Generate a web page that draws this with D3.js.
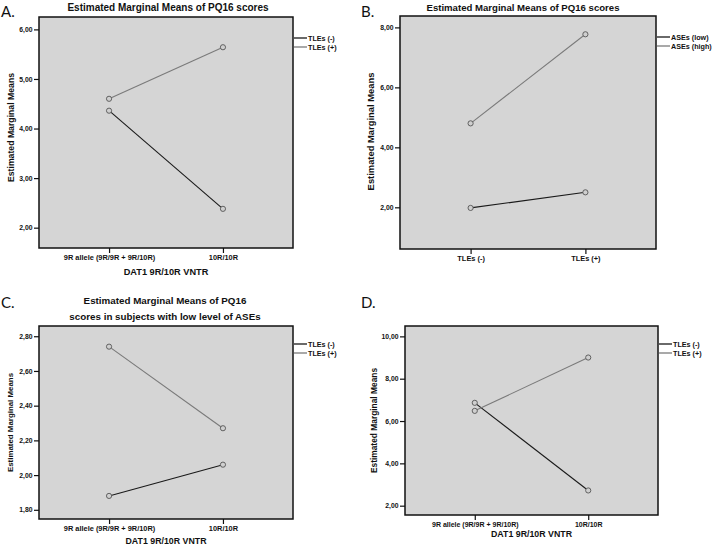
<!DOCTYPE html>
<html><head><meta charset="utf-8">
<script src="https://cdn.jsdelivr.net/npm/d3@7"></script>
<style>body{margin:0;background:#fff}svg{display:block}</style>
</head><body>
<svg id="c" width="713" height="545"></svg>
<script>
// ---- data ----
const catsDAT = ["9R allele (9R/9R + 9R/10R)", "10R/10R"];
const catsTLE = ["TLEs (-)", "TLEs (+)"];
const seriesTLE = ["TLEs (-)", "TLEs (+)"];
const seriesASE = ["ASEs (low)", "ASEs (high)"];
const aNeg = [4.36, 2.38];
const aPos = [4.60, 5.64];
const bLow = [1.98, 2.50];
const bHigh = [4.80, 7.77];
const cNeg = [1.88, 2.06];
const cPos = [2.74, 2.27];
const dNeg = [6.86, 2.72];
const dPos = [6.48, 9.00];
const ticksA = [2, 3, 4, 5, 6];
const ticksB = [2, 4, 6, 8];
const ticksC = [1.8, 2.0, 2.2, 2.4, 2.6, 2.8];
const ticksD = [2, 4, 6, 8, 10];

const svg = d3.select("#c");
const FONT = "'Liberation Sans', Arial, sans-serif";
const COLS = ["#1a1a1a", "#7a7a7a"];
const fmt = v => v.toFixed(2).replace(".", ",");

function panel(o) {
  const g = svg.append("g");
  const x = d3.scalePoint().domain(o.cats).range([o.x0, o.x1]).padding(0.615);
  const y = d3.scaleLinear().domain(o.dom).range([o.y1, o.y0]);
  g.append("rect").attr("x", o.x0).attr("y", o.y0).attr("width", o.x1 - o.x0).attr("height", o.y1 - o.y0)
    .attr("fill", "#d5d5d5").attr("stroke", "#111").attr("stroke-width", 1.5);
  const ya = g.append("g").attr("transform", `translate(${o.x0},0)`)
    .call(d3.axisLeft(y).tickValues(o.ticks).tickFormat(fmt).tickSize(5).tickPadding(1.5).tickSizeOuter(0));
  ya.select(".domain").remove();
  ya.selectAll("text").attr("font-family", FONT).attr("font-weight", "bold").attr("font-size", 6.8).attr("fill", "#111");
  ya.selectAll("line").attr("stroke", "#111").attr("stroke-width", 1.2);
  const xa = g.append("g").attr("transform", `translate(0,${o.y1})`)
    .call(d3.axisBottom(x).tickSize(5).tickPadding(2).tickSizeOuter(0));
  xa.select(".domain").remove();
  xa.selectAll("text").attr("font-family", FONT).attr("font-weight", "bold").attr("font-size", o.xtf || 7.4).attr("fill", "#111").attr("dy", "0.72em");
  xa.selectAll("line").attr("stroke", "#111").attr("stroke-width", 1.2);

  const line = d3.line().x((d, i) => x(o.cats[i])).y(d => y(d));
  o.series.forEach((vals, si) => {
    g.append("path").datum(vals).attr("d", line).attr("fill", "none")
      .attr("stroke", COLS[si]).attr("stroke-width", 1.1);
  });
  o.series.forEach((vals, si) => {
    g.selectAll(null).data(vals).enter().append("circle")
      .attr("cx", (d, i) => x(o.cats[i])).attr("cy", d => y(d)).attr("r", 2.6)
      .attr("fill", "#cfcfcf").attr("stroke", "#555").attr("stroke-width", 0.9);
  });
  // legend
  o.names.forEach((n, i) => {
    const ly = o.legY + i * 9;
    g.append("line").attr("x1", o.x1 + 1).attr("x2", o.x1 + 14).attr("y1", ly).attr("y2", ly)
      .attr("stroke", COLS[i]).attr("stroke-width", 1.3);
    g.append("text").attr("x", o.x1 + 15).attr("y", ly + 2.5).text(n)
      .attr("font-family", FONT).attr("font-weight", "bold").attr("font-size", 7.2).attr("fill", "#111");
  });
  // y label
  g.append("text").attr("transform", `translate(${o.ylx},${(o.y0 + o.y1) / 2 + (o.yly || 0)}) rotate(-90)`)
    .attr("text-anchor", "middle").text("Estimated Marginal Means")
    .attr("font-family", FONT).attr("font-weight", "bold").attr("font-size", o.ylf).attr("fill", "#111");
  if (o.xlab) {
    g.append("text").attr("x", (o.x0 + o.x1) / 2).attr("y", o.xly).attr("text-anchor", "middle").text(o.xlab)
      .attr("font-family", FONT).attr("font-weight", "bold").attr("font-size", o.xlf || 9.2).attr("fill", "#111");
  }
  (o.title || []).forEach((t, i) => {
    g.append("text").attr("x", o.tx).attr("y", o.ty + i * 16).attr("text-anchor", "middle").text(t)
      .attr("font-family", FONT).attr("font-weight", "bold").attr("font-size", o.tf).attr("fill", "#111");
  });
  g.append("text").attr("x", o.lx).attr("y", o.lyy).text(o.letter)
    .attr("font-family", "Lato, 'Open Sans', sans-serif").attr("font-size", 15).attr("fill", "#111");
}

panel({cats: catsDAT, series: [aNeg, aPos], names: seriesTLE, x0: 39, x1: 293, y0: 17, y1: 248,
  dom: [1.59, 6.25], ticks: ticksA, legY: 38, ylx: 14, yly: -5, ylf: 8.7, xlab: "DAT1 9R/10R VNTR", xly: 275,
  title: ["Estimated Marginal Means of PQ16 scores"], tf: 10, tx: 168, ty: 11, letter: "A.", lx: 1, lyy: 17});
panel({cats: catsTLE, series: [bLow, bHigh], names: seriesASE, x0: 400, x1: 656, y0: 16, y1: 249,
  dom: [0.61, 8.38], ticks: ticksB, legY: 37, ylx: 374, yly: -1, ylf: 9.4, xlab: null,
  title: ["Estimated Marginal Means of PQ16 scores"], tf: 9.6, tx: 523, ty: 11, letter: "B.", lx: 361, lyy: 17});
panel({cats: catsDAT, series: [cNeg, cPos], names: seriesTLE, x0: 39, x1: 293, y0: 326, y1: 519,
  dom: [1.747, 2.859], ticks: ticksC, legY: 344, ylx: 13, ylf: 7.9, xlab: "DAT1 9R/10R VNTR", xly: 544, xlf: 8.8,
  title: ["Estimated Marginal Means of PQ16", "scores in subjects with low level of ASEs"], tf: 9.8, tx: 165, ty: 304, letter: "C.", lx: 1, lyy: 308});
panel({cats: catsDAT, series: [dNeg, dPos], names: seriesTLE, x0: 405, x1: 658, y0: 326, y1: 515,
  dom: [1.56, 10.49], ticks: ticksD, legY: 344, ylx: 377, ylf: 8.4, xlab: "DAT1 9R/10R VNTR", xly: 537, xlf: 8.8, xtf: 7,
  title: [], letter: "D.", lx: 361, lyy: 308});
</script>
</body></html>
